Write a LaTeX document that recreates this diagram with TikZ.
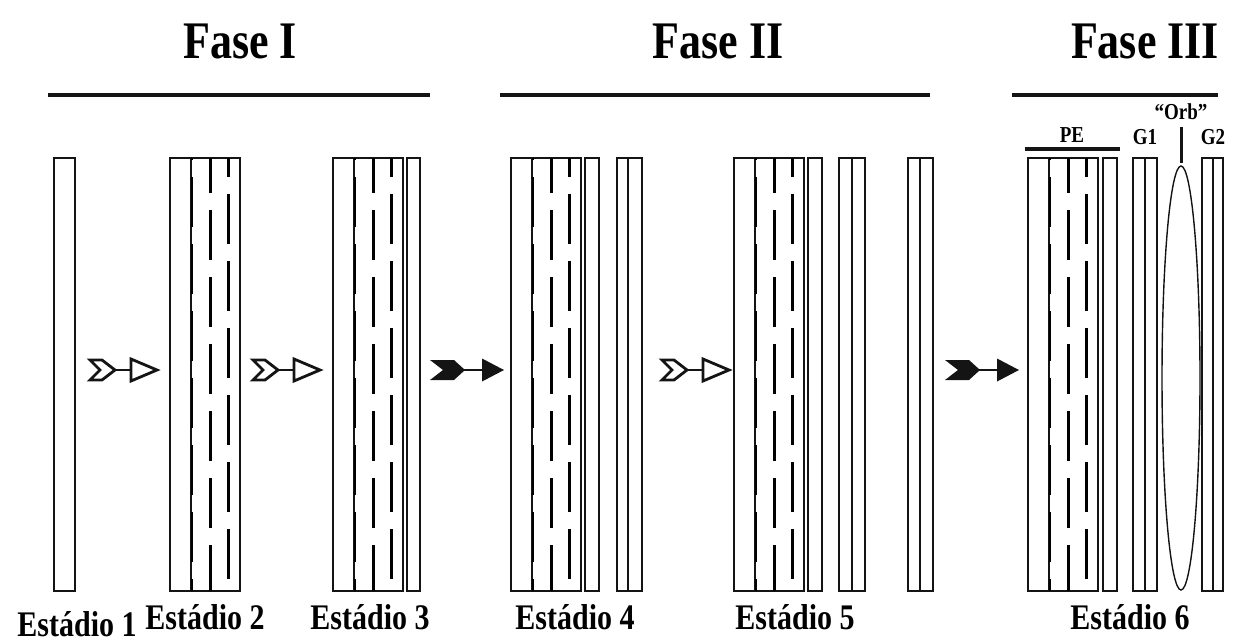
\documentclass[tikz,border=0pt]{standalone}
\usepackage{fontspec}
\setmainfont{Liberation Serif}
\begin{document}
\begin{tikzpicture}[x=1pt,y=-1pt,
  wall/.style={draw=black!92, line width=2.6pt, line join=miter},
  dashmid/.style={black, line width=3pt, dash pattern=on 50pt off 17pt, dash phase=15pt},
  dashright/.style={black, line width=3pt, dash pattern=on 50pt off 17pt, dash phase=31pt},
  dashleft/.style={black, line width=2.2pt, dash pattern=on 50pt off 17pt, dash phase=48pt},
  faselbl/.style={font=\bfseries\fontsize{44}{44}\selectfont, inner sep=0pt},
  stagelbl/.style={font=\bfseries\fontsize{30}{30}\selectfont, inner sep=0pt},
  partlbl/.style={font=\bfseries\fontsize{19}{19}\selectfont, inner sep=0pt},
  bar/.style={line width=4.5pt, black!92},
  arrline/.style={line width=2.8pt, line join=miter, black!92}]
\useasboundingbox (0,0) rectangle (1234,643);

% text set slightly taller than wide
\newcommand\tall[1]{\scalebox{1}[1.2]{#1}}

% layered wall: outer box, solid inner layer and two staggered dashed layers
\newcommand\layeredwall[1]{%
  \draw[wall] (#1,158) rectangle ({#1+70},591);
  \draw[wall] ({#1+21},158) -- ({#1+21},591);
  \draw[dashleft] ({#1+22.3},158) -- ({#1+22.3},591);
  \draw[dashmid] ({#1+40},158) -- ({#1+40},591);
  \draw[dashright] ({#1+58},158) -- ({#1+58},591);
}
% single thin layer
\newcommand\thinlayer[2]{\draw[wall] (#1,158) rectangle (#2,591);}
% double layer with a middle line
\newcommand\doublelayer[3]{%
  \draw[wall] (#1,158) rectangle (#3,591);
  \draw[wall] (#2,158) -- (#2,591);
}
% open arrow: outlined fletching, shaft and hollow head
\newcommand\openarrow[1]{%
  \begin{scope}[shift={(#1,370)}]
    \draw[arrline] (24,0) -- (41,0);
    \draw[arrline, fill=white] (0,-10) -- (12,-10) -- (25,0) -- (12,10) -- (0,10) -- (10,0) -- cycle;
    \draw[arrline, fill=white] (41,-11) -- (67,0) -- (41,11) -- cycle;
  \end{scope}}
% solid arrow: filled fletching, shaft and filled head
\newcommand\solidarrow[1]{%
  \begin{scope}[shift={(#1,370)}]
    \draw[arrline, line width=2.8pt] (30,0) -- (54,0);
    \fill[black!92] (0,-10) -- (24,-10) -- (35,0) -- (24,10) -- (0,10) -- (13,0) -- cycle;
    \fill[black!92] (52,-11.5) -- (74,0) -- (52,11.5) -- cycle;
  \end{scope}}

% phase headings and bars
\node[faselbl] (f1) at (240,41) {\tall{Fase I}};
\node[faselbl] (f2) at (718,41) {\tall{Fase II}};
\node[faselbl] (f3) at (1145,41) {\tall{Fase III}};
\draw[bar] (48,95) -- (430,95);
\draw[bar] (500,95) -- (930,95);
\draw[bar] (1012,95) -- (1218,95);

% stage 1
\thinlayer{54}{75}
% stage 2
\layeredwall{170}
% stage 3
\layeredwall{333}
\thinlayer{407}{420}
% stage 4
\layeredwall{511}
\thinlayer{585}{599}
\doublelayer{617}{628}{642}
% stage 5
\layeredwall{734}
\thinlayer{808}{822}
\doublelayer{839}{852}{865}
\doublelayer{908}{920}{933}
% stage 6
\layeredwall{1028}
\thinlayer{1103}{1117}
\doublelayer{1133}{1145}{1157}
\draw[black!92, line width=1.4pt] (1181,378) ellipse [x radius=19, y radius=212];
\doublelayer{1202}{1213}{1223}
\draw[bar] (1025,149) -- (1120,149);
\draw[black!92, line width=3pt] (1181,127) -- (1181,163);
\node[partlbl] (pe) at (1072,135) {\tall{PE}};
\node[partlbl] (g1) at (1145,137) {\tall{G1}};
\node[partlbl] (g2) at (1213,137) {\tall{G2}};
\node[partlbl] (orb) at (1181,112) {\tall{“Orb”}};

% transitions
\openarrow{90}
\openarrow{253}
\solidarrow{430}
\openarrow{662}
\solidarrow{945}

% stage labels
\node[stagelbl] (e1) at (77,624) {\tall{Estádio 1}};
\node[stagelbl] (e2) at (205,617) {\tall{Estádio 2}};
\node[stagelbl] (e3) at (370,617) {\tall{Estádio 3}};
\node[stagelbl] (e4) at (575,617) {\tall{Estádio 4}};
\node[stagelbl] (e5) at (795,617) {\tall{Estádio 5}};
\node[stagelbl] (e6) at (1130,617) {\tall{Estádio 6}};
\end{tikzpicture}
\end{document}
